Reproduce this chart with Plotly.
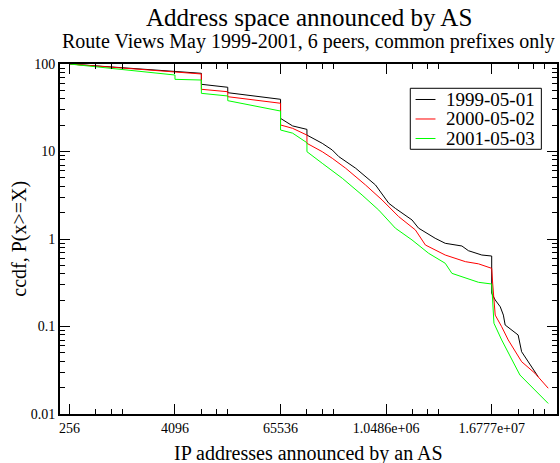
import math
import plotly.graph_objects as go

# ---- data ----
series_names = ["1999-05-01", "2000-05-02", "2001-05-03"]
series_colors = ["#000000", "#ff0000", "#00ff00"]

x_1999 = [256, 4096, 8192, 8192, 16384, 16384, 65536, 65536, 90000, 131072, 131072,
          196000, 255000, 303000, 472000, 794000, 1124000, 1336000, 2070000, 2460000,
          3800000, 4950000, 5420000, 7670000, 9100000, 11870000, 12940000, 16777216,
          16777216, 18400000, 21000000, 22800000, 23900000, 33600000, 36800000, 56800000]
y_1999 = [100, 81, 78.3, 58.6, 54.2, 47.0, 39.5, 23.9, 19.6, 17.9, 15.4,
          12.4, 10.4, 8.73, 6.43, 4.14, 2.56, 2.24, 1.65, 1.33,
          1.02, 0.893, 0.877, 0.832, 0.735, 0.674, 0.656, 0.639,
          0.239, 0.201, 0.168, 0.135, 0.104, 0.080, 0.0515, 0.0267]

x_2000 = [256, 4096, 8192, 8192, 16384, 16384, 65536, 65536, 90000, 131072, 131072,
          196000, 255000, 363000, 611000, 944000, 1460000, 2260000, 2940000, 4950000,
          8400000, 11870000, 16777216, 17200000, 18400000, 21800000, 25900000,
          36800000, 52300000, 74000000]
y_2000 = [100, 80, 76.9, 51.4, 48.2, 42.3, 35.6, 20.1, 18.4, 15.4, 12.4,
          9.95, 8.36, 6.43, 4.14, 2.79, 1.80, 1.27, 0.854, 0.656,
          0.551, 0.52, 0.462, 0.314, 0.135, 0.0995, 0.0702,
          0.0396, 0.0292, 0.0197]

x_2001 = [256, 4096, 4096, 8192, 8192, 16384, 16384, 65536, 65536, 90000, 131072,
          131072, 196000, 332000, 558000, 864000, 1336000, 2070000, 3200000, 4950000,
          5900000, 8400000, 11870000, 16777216, 17500000, 17800000, 21800000,
          35200000, 74000000]
y_2001 = [100, 74.8, 66.8, 65.6, 46.2, 43.1, 38.1, 29.0, 17.6, 16.2, 12.6,
          9.95, 7.33, 4.94, 3.18, 2.14, 1.33, 0.975, 0.687, 0.528,
          0.405, 0.356, 0.320, 0.306, 0.168, 0.109, 0.0702,
          0.0279, 0.0132]

x_tick_vals = [256, 4096, 65536, 1048576, 16777216]
x_tick_text = ["256", "4096", "65536", "1.0486e+06", "1.6777e+07"]
y_tick_vals = [0.01, 0.1, 1, 10, 100]
y_tick_text = ["0.01", "0.1", "1", "10", "100"]

title_text = "Address space announced by AS"
subtitle_text = "Route Views May 1999-2001, 6 peers, common prefixes only"
x_title = "IP addresses announced by an AS"
y_title = "ccdf, P(x>=X)"

# ---- figure ----
FONT = "Liberation Serif"
fig = go.Figure()
for name, color, xs, ys in zip(series_names, series_colors,
                               [x_1999, x_2000, x_2001], [y_1999, y_2000, y_2001]):
    fig.add_trace(go.Scatter(x=xs, y=ys, mode="lines", name=name,
                             line=dict(color=color, width=1), showlegend=False))

x_minor = [m * k for m in x_tick_vals for k in (2, 3, 4)]
y_minor = [10 ** e * k for e in range(-2, 2) for k in range(2, 10)]

axis_common = dict(showgrid=False, zeroline=False, showline=True, linecolor="black",
                   linewidth=2, mirror="allticks", ticks="inside", ticklen=10,
                   tickwidth=1, tickcolor="black",
                   tickfont=dict(family=FONT, size=14, color="black"))

fig.update_xaxes(type="log", range=[math.log10(200), 7.9695], tickmode="array",
                 tickvals=x_tick_vals, ticktext=x_tick_text,
                 minor=dict(tickmode="array", tickvals=x_minor, ticks="inside",
                            ticklen=5, tickwidth=1, tickcolor="black", showgrid=False),
                 **axis_common)
fig.update_yaxes(type="log", range=[-2, 2], tickmode="array",
                 tickvals=y_tick_vals, ticktext=y_tick_text,
                 minor=dict(tickmode="array", tickvals=y_minor, ticks="inside",
                            ticklen=5, tickwidth=1, tickcolor="black", showgrid=False),
                 **axis_common)

# ---- legend box (compact, like the original) ----
leg_x0, leg_x1, leg_y0, leg_y1 = 0.7048, 0.9685, 0.7563, 0.9306
leg_rows = [0.8986, 0.8429, 0.7871]
shapes = [dict(type="rect", xref="paper", yref="paper", x0=leg_x0, x1=leg_x1,
               y0=leg_y0, y1=leg_y1, line=dict(color="black", width=1),
               fillcolor="white", layer="above")]
annotations = []
for name, color, ry in zip(series_names, series_colors, leg_rows):
    shapes.append(dict(type="line", xref="paper", yref="paper", x0=0.7154, x1=0.7555,
                       y0=ry, y1=ry, line=dict(color=color, width=1), layer="above"))
    annotations.append(dict(text=name, xref="paper", yref="paper", x=0.773, y=ry,
                            xanchor="left", yanchor="middle", showarrow=False,
                            font=dict(family=FONT, size=19, color="black")))

annotations += [
    dict(text=title_text, xref="paper", yref="paper", x=0.5, y=1.134,
         xanchor="center", yanchor="middle", showarrow=False,
         font=dict(family=FONT, size=25, color="black")),
    dict(text=subtitle_text, xref="paper", yref="paper", x=0.5, y=1.063,
         xanchor="center", yanchor="middle", showarrow=False,
         font=dict(family=FONT, size=20, color="black")),
    dict(text=x_title, xref="paper", yref="paper", x=0.5, y=-0.112,
         xanchor="center", yanchor="middle", showarrow=False,
         font=dict(family=FONT, size=20, color="black")),
    dict(text=y_title, xref="paper", yref="paper", x=-0.083, y=0.5,
         xanchor="center", yanchor="middle", showarrow=False, textangle=-90,
         font=dict(family=FONT, size=20, color="black")),
]

fig.update_layout(
    width=560, height=463,
    margin=dict(l=60, r=1, t=64, b=49),
    paper_bgcolor="white", plot_bgcolor="white",
    font=dict(family=FONT, color="black"),
    showlegend=False,
    shapes=shapes,
    annotations=annotations,
)

fig.write_html("out.html", config={"displayModeBar": False},
               post_script="document.body.style.margin='0';document.body.style.overflow='hidden';")
